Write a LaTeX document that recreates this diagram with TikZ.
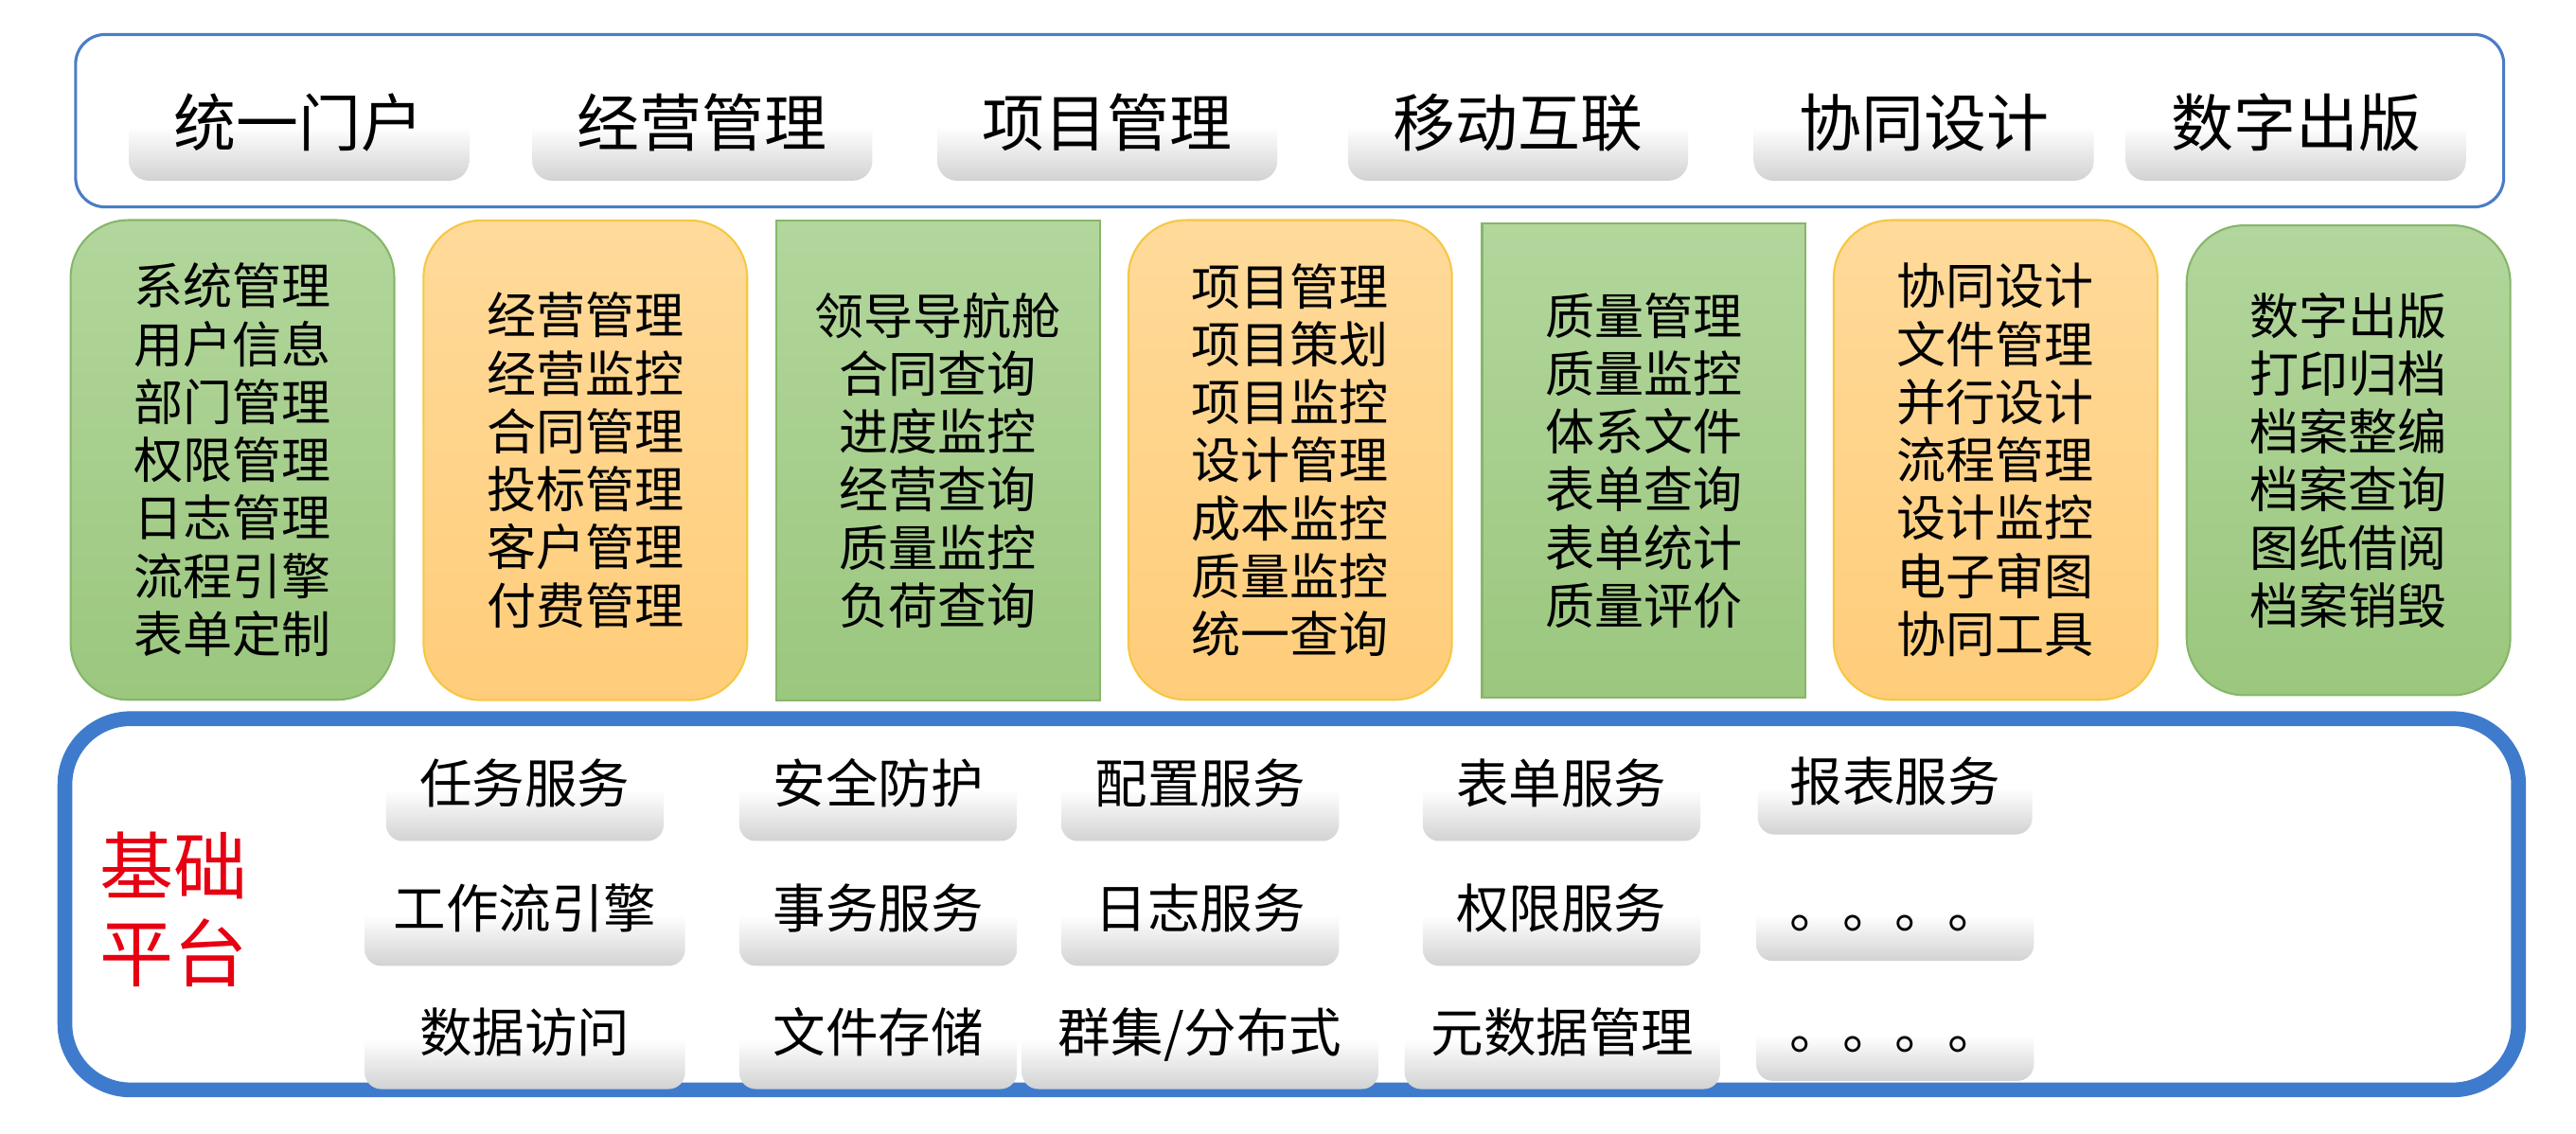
\documentclass[tikz,border=0pt]{standalone}
\usepackage{fontspec}
\newfontfamily\cjk{Noto Sans CJK SC}
\definecolor{frameblue}{HTML}{4A7DC6}
\definecolor{thickblue}{HTML}{3F7BCD}
\definecolor{gtop}{HTML}{B2D69C}
\definecolor{gbot}{HTML}{9BC77E}
\definecolor{gline}{HTML}{86B66A}
\definecolor{otop}{HTML}{FFDA9A}
\definecolor{obot}{HTML}{FFCD7A}
\definecolor{oline}{HTML}{F6C743}
\definecolor{btngray}{HTML}{D2D2D2}
\definecolor{basered}{HTML}{E60012}
\tikzset{
  topbtn/.style={rounded corners=12pt, top color=white, bottom color=btngray, middle color=white,
    minimum width=207pt, minimum height=66pt, inner sep=0pt, text height=30pt, text depth=6pt,
    font=\cjk\fontsize{38}{44}\selectfont},
  svcbtn/.style={rounded corners=10pt, top color=white, bottom color=btngray, middle color=white,
    minimum width=169pt, minimum height=62pt, inner sep=0pt, text height=22pt, text depth=6pt,
    font=\cjk\fontsize{32}{38}\selectfont},
  midbox/.style={line width=1.2pt, minimum width=197pt, minimum height=292pt, inner sep=0pt,
    align=center, font=\cjk\fontsize{30}{35.3}\selectfont},
  greenbox/.style={midbox, draw=gline, top color=gtop, bottom color=gbot},
  orangebox/.style={midbox, draw=oline, top color=otop, bottom color=obot},
  roundbox/.style={rounded corners=35pt},
  basetext/.style={text=basered, align=center, font=\cjk\fontsize{45}{53}\selectfont, inner sep=0pt}
}
\begin{document}
\begin{tikzpicture}[x=1pt,y=-1pt]
\useasboundingbox (0,0) rectangle (1568,690);
\fill[white] (0,0) rectangle (1568,690);

% top frame
\draw[frameblue, line width=1.8pt, rounded corners=18pt] (46,21) rectangle (1524,126);
\node[topbtn] (t1) at (182,77) {统一门户};
\node[topbtn] (t2) at (427.5,77) {经营管理};
\node[topbtn] (t3) at (674,77) {项目管理};
\node[topbtn] (t4) at (924,77) {移动互联};
\node[topbtn] (t5) at (1171,77) {协同设计};
\node[topbtn] (t6) at (1397.5,77) {数字出版};

% middle modules
\node[greenbox, roundbox] (m1) at (141.5,280) {系统管理\\用户信息\\部门管理\\权限管理\\日志管理\\流程引擎\\表单定制};
\node[orangebox, roundbox] (m2) at (356.3,280.2) {经营管理\\经营监控\\合同管理\\投标管理\\客户管理\\付费管理};
\node[greenbox] (m3) at (571,280.2) {领导导航舱\\合同查询\\进度监控\\经营查询\\质量监控\\负荷查询};
\node[orangebox, roundbox] (m4) at (785.3,280) {项目管理\\项目策划\\项目监控\\设计管理\\成本监控\\质量监控\\统一查询};
\node[greenbox, minimum height=289pt] (m5) at (1000.6,280.4) {质量管理\\质量监控\\体系文件\\表单查询\\表单统计\\质量评价};
\node[orangebox, roundbox] (m6) at (1214.7,280) {协同设计\\文件管理\\并行设计\\流程管理\\设计监控\\电子审图\\协同工具};
\node[greenbox, roundbox, minimum height=286pt] (m7) at (1429.5,280.2) {数字出版\\打印归档\\档案整编\\档案查询\\图纸借阅\\档案销毁};

% base platform frame
\draw[thickblue, line width=9pt, rounded corners=40pt] (39.5,437.5) rectangle (1533,663.5);
\node[basetext] (base) at (106,553.5) {基础\\平台};

% service buttons row 1
\node[svcbtn] (s11) at (319.5,481) {任务服务};
\node[svcbtn] (s12) at (534.5,481) {安全防护};
\node[svcbtn] (s13) at (730.5,481) {配置服务};
\node[svcbtn] (s14) at (950.5,481) {表单服务};
\node[svcbtn, minimum width=167pt, minimum height=56pt] (s15) at (1153.5,480) {报表服务};
% row 2
\node[svcbtn, minimum width=195pt] (s21) at (319.5,557) {工作流引擎};
\node[svcbtn] (s22) at (534.5,557) {事务服务};
\node[svcbtn] (s23) at (730.5,557) {日志服务};
\node[svcbtn] (s24) at (950.5,557) {权限服务};
\node[svcbtn, minimum width=169pt, minimum height=56pt] (s25) at (1153.5,557) {。。。。};
% row 3
\node[svcbtn, minimum width=195pt, minimum height=61pt] (s31) at (319.5,632.5) {数据访问};
\node[svcbtn, minimum height=61pt] (s32) at (534.5,632.5) {文件存储};
\node[svcbtn, minimum width=217pt, minimum height=61pt] (s33) at (730.5,632.5) {群集/分布式};
\node[svcbtn, minimum width=192pt, minimum height=61pt] (s34) at (951,632.5) {元数据管理};
\node[svcbtn, minimum width=169pt, minimum height=55pt] (s35) at (1153.5,630.5) {。。。。};
\end{tikzpicture}
\end{document}
